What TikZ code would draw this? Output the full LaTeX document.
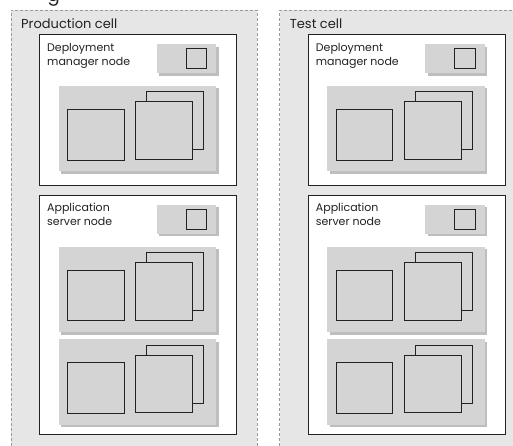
\documentclass[tikz,border=0pt]{standalone}
\usepackage{fontspec}
\setmainfont{Poppins}
\usetikzlibrary{shadows}
\definecolor{cellfill}{HTML}{E6E6E6}
\definecolor{cellline}{HTML}{9A9A9A}
\definecolor{panelfill}{HTML}{D4D4D4}
\definecolor{shadowc}{HTML}{BEBEBE}
\definecolor{edgec}{HTML}{222222}
\tikzset{
  cellbox/.style={draw=cellline, fill=cellfill, dash pattern=on 3pt off 2pt, line width=0.8pt, anchor=north west, inner sep=0pt, outer sep=0pt},
  hostbox/.style={draw=edgec, fill=white, line width=0.8pt, anchor=north west, inner sep=0pt, outer sep=0pt},
  panelbox/.style={fill=panelfill, anchor=north west, inner sep=0pt, outer sep=0pt,
    drop shadow={shadow xshift=2.5pt, shadow yshift=-2.5pt, fill=shadowc, opacity=1}},
  sq/.style={draw=edgec, fill=panelfill, line width=0.8pt, anchor=north west, inner sep=0pt, outer sep=0pt},
  celltitle/.style={anchor=base west, inner sep=0pt, font=\fontsize{13}{15}\selectfont, text=edgec},
  lbl/.style={anchor=base west, inner sep=0pt, font=\fontsize{11}{14.5}\selectfont, align=left, text=edgec},
  pics/grp/.style={code={
    \node[panelbox, minimum width=157.3pt, minimum height=85.5pt] (-panel) at (0,0) {};
    \node[sq, minimum width=56.7pt, minimum height=50.7pt] (-a) at (8.6,23.3) {};
    \node[sq, minimum width=56.6pt, minimum height=58pt, line width=1pt] (-c) at (88,6) {};
    \node[sq, minimum width=57pt, minimum height=57.6pt] (-b) at (76.6,15.7) {};
  }},
  pics/mini/.style={code={
    \node[panelbox, minimum width=59.3pt, minimum height=29pt] (-box) at (0,0) {};
    \node[sq, minimum width=20.5pt, minimum height=20pt] (-sq) at (29.3,4.5) {};
  }},
}
\begin{document}
\begin{tikzpicture}[x=1pt,y=-1pt]
\useasboundingbox (0,0) rectangle (513,446);
\node[anchor=base west, inner sep=0pt, font=\fontsize{18}{20}\selectfont, text=edgec] (frag) at (47.5,2) {g};
% production cell
\node[cellbox, minimum width=246pt, minimum height=460pt] (pcell) at (11,10) {};
\node[celltitle] (ptitle) at (21,28.3) {Production cell};
\node[hostbox, minimum width=197.4pt, minimum height=150.7pt] (pdm) at (39.3,34.3) {};
\node[lbl] (pdmlbl) at (47,65.8) {Deployment\\manager node};
\pic (pdmmini) at (156.7,44.3) {mini};
\pic (pdmg) at (58.7,86) {grp};
\node[hostbox, minimum width=197.4pt, minimum height=239pt] (pas) at (39.3,195) {};
\node[lbl] (paslbl) at (47,225.8) {Application\\server node};
\pic (pasmini) at (156.7,204.5) {mini};
\pic (pasg1) at (58.7,246.7) {grp};
\pic (pasg2) at (58.7,339.3) {grp};
% test cell
\begin{scope}[xshift=268.7pt]
\node[cellbox, minimum width=246pt, minimum height=460pt] (tcell) at (11,10) {};
\node[celltitle] (ttitle) at (21,28.3) {Test cell};
\node[hostbox, minimum width=197.4pt, minimum height=150.7pt] (tdm) at (39.3,34.3) {};
\node[lbl] (tdmlbl) at (47,65.8) {Deployment\\manager node};
\pic (tdmmini) at (156.7,44.3) {mini};
\pic (tdmg) at (58.7,86) {grp};
\node[hostbox, minimum width=197.4pt, minimum height=239pt] (tas) at (39.3,195) {};
\node[lbl] (taslbl) at (47,225.8) {Application\\server node};
\pic (tasmini) at (156.7,204.5) {mini};
\pic (tasg1) at (58.7,246.7) {grp};
\pic (tasg2) at (58.7,339.3) {grp};
\end{scope}
\end{tikzpicture}
\end{document}
